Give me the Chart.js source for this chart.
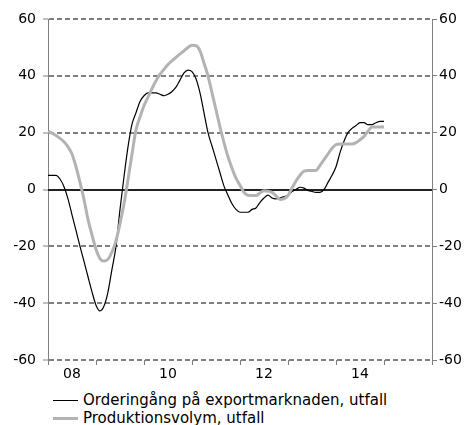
<!DOCTYPE html>
<html>
<head>
<meta charset="utf-8">
<script src="https://cdn.jsdelivr.net/npm/chart.js@4.4.1/dist/chart.umd.min.js"></script>
<style>
  body { margin: 0; background: #fff; }
  #wrap { position: relative; width: 471px; height: 425px; }
  #chart { position: absolute; left: 0; top: 0; }
  .legend { position: absolute; left: 53px; font-family: "DejaVu Sans", Verdana, sans-serif; font-size: 15px; color: #000; }
  .legend div { height: 18px; line-height: 18px; white-space: nowrap; }
  .legend span { display: inline-block; width: 25px; vertical-align: middle; margin-right: 5px; }
</style>
</head>
<body>
<div id="wrap">
  <canvas id="chart" width="471" height="385"></canvas>
  <div class="legend" style="top:391px">
    <div><span style="border-top:1px solid #000"></span>Orderingång på exportmarknaden, utfall</div>
    <div><span style="border-top:3px solid #b3b3b3"></span>Produktionsvolym, utfall</div>
  </div>
</div>
<script>
// monthly values, jan 2008 .. jan 2015
var orderExport = [5, 5, 5, 3.7, 1, -3.3, -8.9, -14.4, -20, -25.3, -30.7, -36, -40.7, -42.7, -41, -36,
  -28, -20, -7, 4.5, 15, 23, 27, 31, 33, 34, 34, 34, 33.5, 33, 33.5, 34.5, 36, 38.5, 41, 42,
  41.5, 39, 34, 27, 20, 15.3, 10.6, 5.9, 1.2, -2, -5, -7, -8, -8, -8, -7, -6.5, -4.5, -3, -2,
  -3, -3.3, -3, -2.5, -2, -0.7, 0, 0.8, 0.5, -0.3, -0.7, -1, -1, 0, 2.5, 5, 8, 13, 17, 20,
  21.5, 22.5, 23.5, 23.5, 22.8, 22.8, 23.5, 24, 24];
var production = [20.5, 19.8, 19, 18, 16.8, 15, 12.5, 8, 2.5, -3.5, -10.5, -16, -21, -24.3, -25.2, -24.5,
  -22, -18, -12, -5, 3.5, 12.5, 21, 25.5, 29.5, 32.5, 35.5, 38.3, 40.5, 42.3, 44, 45.3, 46.5, 47.7, 48.8, 50,
  50.8, 50.6, 48.8, 44.5, 40, 34, 28, 22, 16.5, 11.5, 7.5, 4, 1.5, -1, -2, -2.1, -2.1, -1.2, -0.4, -0.6,
  -1, -2.2, -3.5, -3.2, -2.1, 0.5, 3, 5, 6.5, 6.7, 6.7, 6.7, 8.5, 10.5, 12.5, 14.5, 15.8, 16, 16, 16,
  16, 16.5, 17.5, 18.7, 20.5, 22, 22, 22, 22];
var months = orderExport.map(function(v, i){ return i; });
var yearLabels = { 6: '08', 30: '10', 54: '12', 78: '14' };
var yTicks = [-60, -40, -20, 0, 20, 40, 60];

var fontSpec = { family: 'DejaVu Sans', size: 14 };

var zeroLine = {
  id: 'zeroLine',
  beforeDatasetsDraw: function(chart) {
    var ctx = chart.ctx, a = chart.chartArea;
    var y = Math.round(chart.scales.y.getPixelForValue(0));
    ctx.save();
    ctx.strokeStyle = '#222';
    ctx.lineWidth = 2;
    ctx.beginPath();
    ctx.moveTo(a.left, y);
    ctx.lineTo(a.right, y);
    ctx.stroke();
    ctx.restore();
  }
};

var ctxL = document.getElementById('chart').getContext('2d');
var chart = new Chart(ctxL, {
  type: 'line',
  data: {
    labels: months,
    datasets: [{
      label: 'Produktionsvolym, utfall',
      data: production,
      borderColor: '#b3b3b3',
      borderWidth: 3,
      pointRadius: 0,
      cubicInterpolationMode: 'monotone'
    }, {
      label: 'Orderingång på exportmarknaden, utfall',
      data: orderExport,
      borderColor: '#000',
      borderWidth: 1.2,
      pointRadius: 0,
      cubicInterpolationMode: 'monotone'
    }]
  },
  plugins: [zeroLine],
  options: {
    responsive: false,
    animation: false,
    layout: { padding: { top: 19, bottom: 0, left: 0, right: 0 } },
    plugins: { legend: { display: false }, tooltip: { enabled: false } },
    scales: {
      x: {
        type: 'linear', min: 0, max: 96,
        afterBuildTicks: function(s) {
          var t = [];
          for (var v = 0; v <= 96; v += 6) t.push({ value: v });
          s.ticks = t;
        },
        afterFit: function(s) { s.height = 25; },
        ticks: {
          autoSkip: false, maxRotation: 0, padding: 1, color: '#000', font: fontSpec,
          callback: function(v) { return yearLabels[v] || ''; }
        },
        grid: {
          drawOnChartArea: false, drawTicks: true, tickLength: 5, tickWidth: 1,
          tickColor: function(c) { return c.tick && c.tick.value % 12 === 0 ? '#808080' : 'rgba(0,0,0,0)'; }
        },
        border: { display: false }
      },
      y: {
        position: 'left', min: -60, max: 60,
        afterBuildTicks: function(s) { s.ticks = yTicks.map(function(v){ return { value: v }; }); },
        afterFit: function(s) { s.width = 48; },
        ticks: { padding: 7, color: '#000', font: fontSpec },
        grid: { color: '#808080', lineWidth: 2, tickLength: 5, tickWidth: 1, tickColor: '#808080' },
        border: { display: true, color: '#808080', width: 1, dash: [5, 3] }
      },
      y2: {
        position: 'right', min: -60, max: 60,
        afterBuildTicks: function(s) { s.ticks = yTicks.map(function(v){ return { value: v }; }); },
        afterFit: function(s) { s.width = 39; },
        ticks: { padding: 2, color: '#000', font: fontSpec },
        grid: { drawOnChartArea: false, tickLength: 5, tickWidth: 1, tickColor: '#808080' },
        border: { display: true, color: '#808080', width: 1 }
      }
    }
  }
});
</script>
</body>
</html>
